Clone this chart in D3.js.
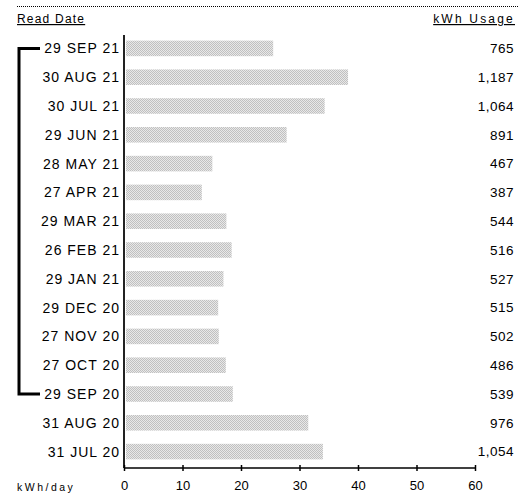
<!DOCTYPE html>
<html lang="en">
<head>
<meta charset="UTF-8">
<title>kWh Usage</title>
<script src="https://d3js.org/d3.v7.min.js"></script>
<style>
    body { margin: 0; background: white; font-family: "Liberation Sans", Arial, sans-serif; }
    svg text { fill: #000; }
</style>
</head>
<body>
<svg id="chart" width="518" height="495"></svg>
<script>
    // data
    let readDates = ['29 SEP 21', '30 AUG 21', '30 JUL 21', '29 JUN 21', '28 MAY 21', '27 APR 21',
        '29 MAR 21', '26 FEB 21', '29 JAN 21', '29 DEC 20', '27 NOV 20', '27 OCT 20',
        '29 SEP 20', '31 AUG 20', '31 JUL 20']
    let kwhPerDay = [25.5, 38.3, 34.3, 27.8, 15.1, 13.3, 17.5, 18.4, 17.0, 16.1, 16.2, 17.4, 18.6, 31.5, 34.0]
    let kwhUsage = [765, 1187, 1064, 891, 467, 387, 544, 516, 527, 515, 502, 486, 539, 976, 1054]
    let xTicks = [0, 10, 20, 30, 40, 50, 60]
    // bracket spans first and 13th row (a twelve-month period)
    let bracketRows = [readDates[0], readDates[12]]

    let svg = d3.select('#chart')

    let x = d3.scaleLinear().domain([0, 60]).range([124, 475])
    let y = d3.scaleBand().domain(readDates).range([34, 466]).paddingInner(0.46).paddingOuter(0.23)

    // pattern for the bars
    let defs = svg.append('defs')
    let pat = defs.append('pattern')
        .attr('id', 'dots')
        .attr('width', 2).attr('height', 2)
        .attr('patternUnits', 'userSpaceOnUse')
    pat.append('rect').attr('width', 2).attr('height', 2).attr('fill', '#e8e8e8')
    pat.append('rect').attr('width', 1).attr('height', 1).attr('fill', '#c0c0c0')
    pat.append('rect').attr('x', 1).attr('y', 1).attr('width', 1).attr('height', 1).attr('fill', '#c0c0c0')

    // top dotted rule
    svg.append('line')
        .attr('x1', 17).attr('x2', 518).attr('y1', 6.5).attr('y2', 6.5)
        .attr('stroke', '#000').attr('stroke-width', 1).attr('stroke-dasharray', '1,1')

    // headers
    svg.append('text')
        .attr('x', 17).attr('y', 23)
        .style('font-size', '12px')
        .style('letter-spacing', '1.2px')
        .style('text-decoration', 'underline')
        .text('Read Date')
    svg.append('text')
        .attr('x', 515).attr('y', 23)
        .attr('text-anchor', 'end')
        .style('font-size', '12px')
        .style('letter-spacing', '2.2px')
        .style('text-decoration', 'underline')
        .text('kWh Usage')

    // bars
    svg.append('g').selectAll('rect')
        .data(readDates)
        .join('rect')
        .attr('x', x(0) + 2)
        .attr('y', d => y(d))
        .attr('width', (d, i) => x(kwhPerDay[i]) - x(0) - 2)
        .attr('height', y.bandwidth())
        .attr('fill', 'url(#dots)')

    // date labels
    svg.append('g').selectAll('text')
        .data(readDates)
        .join('text')
        .attr('x', 120)
        .attr('y', d => y(d) + y.bandwidth() / 2)
        .attr('dy', '0.36em')
        .attr('text-anchor', 'end')
        .style('font-size', '14px')
        .style('letter-spacing', '1px')
        .text(d => d)

    // usage labels
    svg.append('g').selectAll('text')
        .data(readDates)
        .join('text')
        .attr('x', 514)
        .attr('y', d => y(d) + y.bandwidth() / 2)
        .attr('dy', '0.36em')
        .attr('text-anchor', 'end')
        .style('font-size', '13.5px')
        .style('letter-spacing', '0.5px')
        .text((d, i) => d3.format(',')(kwhUsage[i]))

    // bracket
    let yTop = y(bracketRows[0]) + y.bandwidth() / 2
    let yBot = y(bracketRows[1]) + y.bandwidth() / 2
    svg.append('path')
        .attr('d', `M40,${yTop} H19 V${yBot} H40`)
        .attr('fill', 'none')
        .attr('stroke', '#000')
        .attr('stroke-width', 3)

    // vertical axis line
    svg.append('line')
        .attr('x1', x(0)).attr('x2', x(0))
        .attr('y1', 35).attr('y2', 468)
        .attr('stroke', '#222').attr('stroke-width', 2)

    // x axis
    let axis = svg.append('g')
        .attr('transform', 'translate(0,468)')
        .call(d3.axisBottom(x).tickValues(xTicks).tickSize(4).tickPadding(9))
    axis.select('.domain').attr('stroke', '#000').attr('stroke-width', 1.5)
        .attr('d', `M${x(0)},0H${x(60)}`)
    axis.selectAll('.tick line').attr('y1', -3).attr('y2', 3).attr('stroke', '#000').attr('stroke-width', 1.5)
    axis.selectAll('.tick text')
        .style('font-size', '13px')
        .style('font-family', '"Liberation Sans", Arial, sans-serif')
        .attr('fill', '#000')

    svg.append('text')
        .attr('x', 17).attr('y', 491)
        .style('font-size', '10.5px')
        .style('letter-spacing', '2.5px')
        .text('kWh/day')
</script>
</body>
</html>
